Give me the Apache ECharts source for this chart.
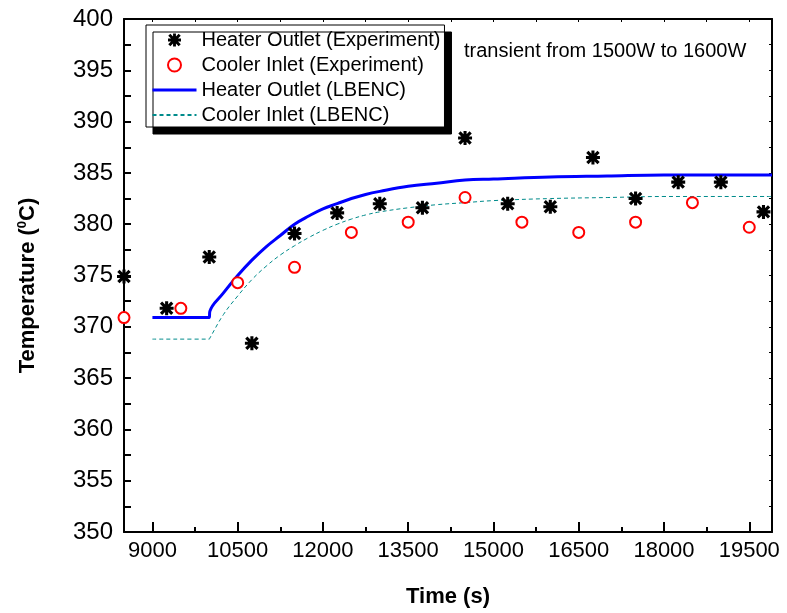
<!DOCTYPE html>
<html lang="en">
<head>
    <meta charset="UTF-8">
    <title>Transient 1500W to 1600W</title>
    <style>
        *{
            margin: 0;
            padding: 0;
        }
        body{
            background: #fff;
        }
        #main{
            width: 787px;
            height: 613px;
        }
    </style>
</head>
<body>
    <div id="main"></div>
    <script src="https://cdn.jsdelivr.net/npm/echarts@6/dist/echarts.min.js"></script>
    <script type="text/javascript">
        // experiment points
        var heaterExpTime = [8500, 9250, 10000, 10750, 11500, 12250, 13000, 13750, 14500, 15250, 16000, 16750, 17500, 18250, 19000, 19750];
        var heaterExpTemp = [374.9, 371.8, 376.8, 368.4, 379.1, 381.1, 382.0, 381.6, 388.4, 382.0, 381.7, 386.5, 382.5, 384.1, 384.1, 381.2];
        var coolerExpTime = [8500, 9500, 10500, 11500, 12500, 13500, 14500, 15500, 16500, 17500, 18500, 19500];
        var coolerExpTemp = [370.9, 371.8, 374.3, 375.8, 379.2, 380.2, 382.6, 380.2, 379.2, 380.2, 382.1, 379.7];

        // LBENC curves
        var simTime = [9000, 10000, 10010, 10250, 10500, 10750, 11000, 11250, 11500, 11750, 12000, 12250, 12500, 12750, 13000, 13500, 14000, 14500, 15000, 16000, 17000, 18000, 19000, 19900];
        var heaterSim = [370.9, 370.9, 371.5, 373.3, 375.0, 376.5, 377.8, 378.9, 380.0, 380.8, 381.5, 382.0, 382.5, 382.9, 383.2, 383.7, 384.0, 384.3, 384.4, 384.6, 384.7, 384.8, 384.8, 384.8];
        var coolerSim = [368.8, 368.8, 368.9, 371.2, 373.0, 374.6, 375.9, 377.0, 377.9, 378.7, 379.4, 380.0, 380.5, 380.9, 381.2, 381.6, 381.9, 382.1, 382.3, 382.5, 382.6, 382.7, 382.7, 382.7];

        var xLabels = [9000, 10500, 12000, 13500, 15000, 16500, 18000, 19500];
        var xMinor = [9750, 11250, 12750, 14250, 15750, 17250, 18750];
        var xTop = [9000, 9750, 10500, 11250, 12000, 12750, 13500, 14250, 15000, 15750, 16500, 17250, 18000, 18750, 19500];

        var font = 'Arial, "Liberation Sans", sans-serif';
        var star = 'path://M0,3.9L10,3.9L10,6.1L0,6.1Z' +
            'M3.9,0L6.1,0L6.1,10L3.9,10Z' +
            'M1.8,0.2L9.8,8.2L8.2,9.8L0.2,1.8Z' +
            'M8.2,0.2L9.8,1.8L1.8,9.8L0.2,8.2Z';

        function pairs(xs, ys){
            return xs.map(function(x, i){
                return [x, ys[i]];
            });
        }

        var axisLine = {show: true, lineStyle: {color: '#000', width: 2}};

        var chart = echarts.init(document.getElementById('main'));
        var option = {
            animation: false,
            backgroundColor: '#fff',
            grid: {left: 124, right: 15, top: 19, bottom: 80},
            legend: {
                orient: 'vertical',
                left: 146,
                top: 25,
                padding: [5, 4, 2, 5],
                itemWidth: 44,
                itemHeight: 13,
                itemGap: 5,
                backgroundColor: '#fff',
                borderColor: '#000',
                borderWidth: 1,
                shadowColor: '#000',
                shadowBlur: 0,
                shadowOffsetX: 7,
                shadowOffsetY: 7,
                textStyle: {fontFamily: font, fontSize: 20, color: '#000', lineHeight: 20},
                data: [
                    'Heater Outlet (Experiment)',
                    'Cooler Inlet (Experiment)',
                    {name: 'Heater Outlet (LBENC)', itemStyle: {opacity: 0}, lineStyle: {width: 3}},
                    {name: 'Cooler Inlet (LBENC)', itemStyle: {opacity: 0}}
                ]
            },
            graphic: [{
                type: 'text',
                left: 464,
                top: 41,
                style: {text: 'transient from 1500W to 1600W', font: '20px ' + font, fill: '#000'}
            }],
            xAxis: [{
                type: 'value',
                min: 8500,
                max: 19900,
                name: 'Time (s)',
                nameLocation: 'middle',
                nameGap: 54,
                nameTextStyle: {fontFamily: font, fontSize: 22, fontWeight: 'bold', color: '#000'},
                axisLine: axisLine,
                axisTick: {inside: true, length: 10, lineStyle: {width: 2, color: '#000'}, customValues: xLabels},
                axisLabel: {fontFamily: font, fontSize: 22, color: '#000', margin: 8, customValues: xLabels, formatter: function(v){ return String(v); }},
                splitLine: {show: false}
            }, {
                type: 'value',
                min: 8500,
                max: 19900,
                position: 'bottom',
                axisLine: {show: false},
                axisTick: {inside: true, length: 5, lineStyle: {width: 2, color: '#000'}, customValues: xMinor},
                axisLabel: {show: false},
                splitLine: {show: false}
            }, {
                type: 'value',
                min: 8500,
                max: 19900,
                position: 'top',
                axisLine: axisLine,
                axisTick: {inside: true, length: 3, lineStyle: {width: 1, color: '#000'}, customValues: xTop},
                axisLabel: {show: false},
                splitLine: {show: false}
            }],
            yAxis: [{
                type: 'value',
                min: 350,
                max: 400,
                interval: 5,
                name: 'Temperature ({sup|0}C)',
                nameLocation: 'middle',
                nameGap: 85,
                nameTextStyle: {
                    fontFamily: font, fontSize: 22, fontWeight: 'bold', color: '#000',
                    padding: [0, 20, 0, 0],
                    rich: {sup: {fontFamily: font, fontSize: 13, fontWeight: 'bold', color: '#000', verticalAlign: 'top', padding: [0, 0, 10, 0]}}
                },
                axisLine: axisLine,
                axisTick: {inside: true, length: 7, lineStyle: {width: 2, color: '#000'}},
                minorTick: {show: true, splitNumber: 2, length: 7, lineStyle: {width: 2, color: '#000'}},
                axisLabel: {fontFamily: font, fontSize: 24, color: '#000', margin: 11},
                splitLine: {show: false}
            }, {
                type: 'value',
                min: 350,
                max: 400,
                interval: 2.5,
                position: 'right',
                axisLine: axisLine,
                axisTick: {inside: true, length: 3, lineStyle: {width: 1, color: '#000'}},
                axisLabel: {show: false},
                splitLine: {show: false}
            }],
            series: [{
                name: 'Heater Outlet (Experiment)',
                type: 'scatter',
                symbol: star,
                symbolSize: 14,
                itemStyle: {color: '#000', opacity: 1},
                data: pairs(heaterExpTime, heaterExpTemp),
                z: 5
            }, {
                name: 'Cooler Inlet (Experiment)',
                type: 'scatter',
                symbol: 'emptyCircle',
                symbolSize: 11,
                itemStyle: {color: '#ff0000', borderColor: '#ff0000', borderWidth: 2, opacity: 1},
                data: pairs(coolerExpTime, coolerExpTemp),
                z: 5
            }, {
                name: 'Heater Outlet (LBENC)',
                type: 'line',
                symbol: 'none',
                smooth: 0.4,
                lineStyle: {color: '#0000ff', width: 3},
                itemStyle: {color: '#0000ff'},
                data: pairs(simTime, heaterSim)
            }, {
                name: 'Cooler Inlet (LBENC)',
                type: 'line',
                symbol: 'none',
                smooth: 0.4,
                lineStyle: {color: '#008b8b', width: 1, type: [4, 3]},
                itemStyle: {color: '#008b8b'},
                data: pairs(simTime, coolerSim)
            }]
        };
        chart.setOption(option);
    </script>
</body>
</html>
